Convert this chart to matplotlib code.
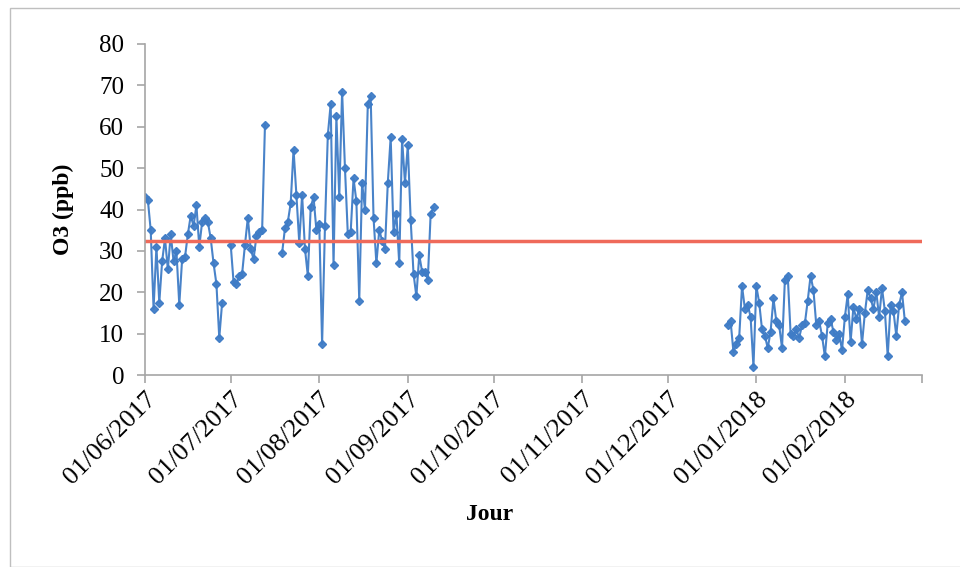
import matplotlib
matplotlib.use("Agg")
import matplotlib.pyplot as plt
import numpy as np
import pandas as pd
from matplotlib.patches import Rectangle

# ---- data ----
seg1_start = "2017-06-01"
seg1_values = [43, 42.3, 35, 16, 31, 17.5, 27.5, 33, 25.5, 34, 27.5, 30, 17, 28,
               28.5, 34, 38.5, 36, 41, 31, 37, 38, 37, 33, 27, 22, 9, 17.5]
seg2_start = "2017-07-01"
seg2_values = [31.5, 22.5, 22, 24, 24.5, 31.5, 38, 30.5, 28, 33.5, 34.5, 35, 60.5]
seg3_start = "2017-07-19"
seg3_values = [29.5, 35.5, 37, 41.5, 54.5, 43.5, 32, 43.5, 30.5, 24,
               40.5, 43, 35, 36.5, 7.5, 36, 58, 65.5, 26.5, 62.5,
               43, 68.5, 50, 34, 34.5, 47.5, 42, 18, 46.5, 40,
               65.5, 67.5, 38, 27, 35, 32.5, 30.5, 46.5, 57.5, 34.5,
               39, 27, 57, 46.5, 55.5, 37.5, 24.5, 19, 29, 25,
               25, 23, 39, 40.5]
seg4_start = "2017-12-22"
seg4_values = [12, 13, 5.5, 7.5, 9, 21.5, 16, 17, 14, 2,
               21.5, 17.5, 11, 9.5, 6.5, 10.5, 18.5, 13, 12, 6.5,
               23, 24, 10, 9.5, 11, 9, 12, 12.5, 18, 24,
               20.5, 12, 13, 9.5, 4.5, 12.5, 13.5, 10.5, 8.5, 10, 6,
               14, 19.5, 8, 16.5, 13.5, 16, 7.5, 15, 20.5, 18.5,
               16, 20, 14, 21, 15.5, 4.5, 17, 15.5, 9.5, 17,
               20, 13]
threshold = 32.5
x_start = "2017-06-01"
x_end = "2018-02-28"
tick_dates = ["2017-06-01", "2017-07-01", "2017-08-01", "2017-09-01", "2017-10-01",
              "2017-11-01", "2017-12-01", "2018-01-01", "2018-02-01"]
tick_labels = ["01/06/2017", "01/07/2017", "01/08/2017", "01/09/2017", "01/10/2017",
               "01/11/2017", "01/12/2017", "01/01/2018", "01/02/2018"]

segments = [(seg1_start, seg1_values), (seg2_start, seg2_values),
            (seg3_start, seg3_values), (seg4_start, seg4_values)]

serif = ["Liberation Serif", "DejaVu Serif"]
blue = "#3F7CC6"

fig = plt.figure(figsize=(9.6, 5.67), dpi=100)
fig.patch.set_facecolor("white")
fig.patches.append(Rectangle((10/960, 0), 1.2, 1 - 8/567, transform=fig.transFigure,
                             fill=False, edgecolor="#BFBFBF", linewidth=1.0))
ax = fig.add_axes([145/960, 1 - 375/567, (922 - 145)/960, (375 - 44)/567])

for start, vals in segments:
    dates = pd.date_range(start, periods=len(vals), freq="D")
    ax.plot(dates, vals, color=blue, linewidth=1.5, marker="D", markersize=4.2,
            markerfacecolor=blue, markeredgecolor=blue, alpha=0.95)

xs, xe = pd.Timestamp(x_start), pd.Timestamp(x_end)
ax.plot([xs, xe], [threshold, threshold], color="#EF6A5A", linewidth=2.5)

ax.set_xlim(xs, xe)
ax.set_ylim(0, 80)
ax.set_yticks(np.arange(0, 81, 10))
ax.set_xticks(list(pd.to_datetime(tick_dates)) + [xe])
ax.set_xticklabels(tick_labels + [""], rotation=45, ha="right", rotation_mode="anchor",
                   family=serif, fontsize=19)
for lbl in ax.get_yticklabels():
    lbl.set_family(serif)
    lbl.set_fontsize(18)

for s in ["top", "right"]:
    ax.spines[s].set_visible(False)
for s in ["left", "bottom"]:
    ax.spines[s].set_color("#A6A6A6")
    ax.spines[s].set_linewidth(1.2)
ax.tick_params(axis="both", colors="#A6A6A6", labelcolor="black", length=6, width=1.2)
ax.tick_params(axis="y", pad=9)
ax.tick_params(axis="x", pad=3)

ax.set_ylabel("O3 (ppb)", family=serif, fontsize=17, fontweight="bold", labelpad=18)
fig.text(490/960, 1 - 515/567, "Jour", family=serif, fontsize=17, fontweight="bold",
         ha="center", va="center")

fig.savefig("out.png", dpi=100)
